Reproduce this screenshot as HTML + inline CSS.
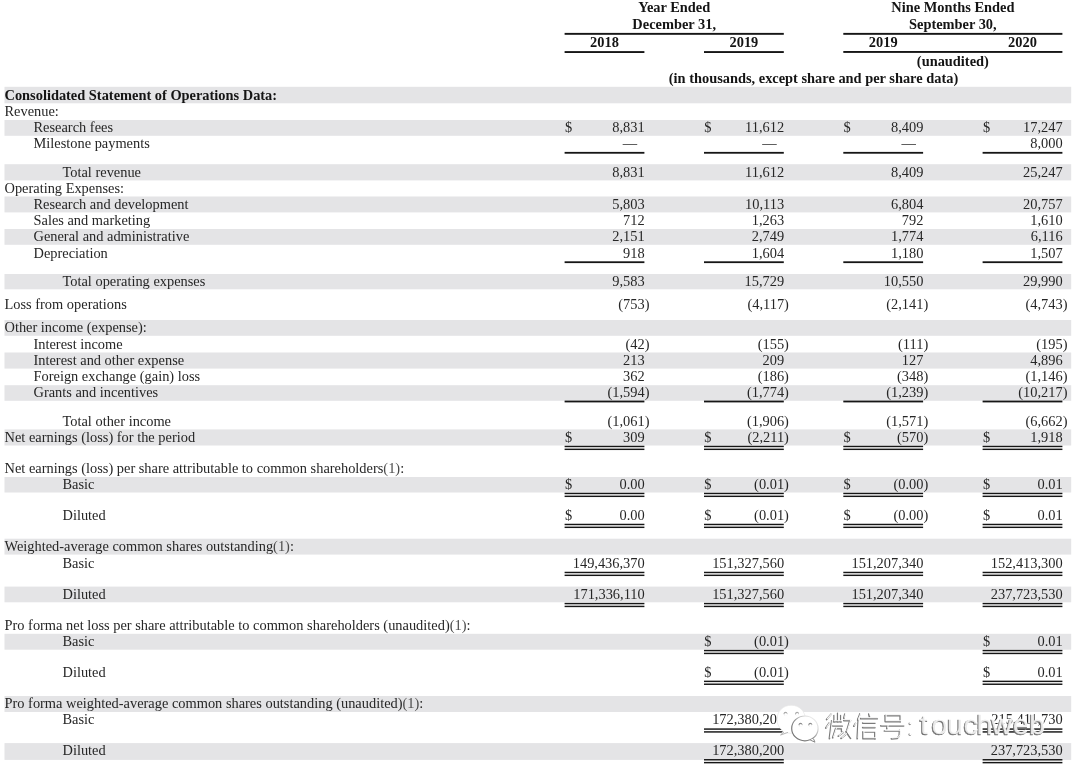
<!DOCTYPE html>
<html><head><meta charset="utf-8"><style>
html,body{margin:0;padding:0;background:#fff;width:1080px;height:774px;overflow:hidden}
svg{position:absolute;left:0;top:0;font-family:"Liberation Serif",serif;filter:blur(0.3px)}
</style></head><body>
<svg width="1080" height="774" viewBox="0 0 1080 774">
<rect x="564.60" y="32.90" width="219.20" height="1.90" fill="#161616"/>
<rect x="843.30" y="32.90" width="219.10" height="1.90" fill="#161616"/>
<rect x="564.60" y="51.10" width="79.80" height="1.90" fill="#161616"/>
<rect x="704.00" y="51.10" width="79.80" height="1.90" fill="#161616"/>
<rect x="843.30" y="51.00" width="219.10" height="1.90" fill="#161616"/>
<rect x="4.50" y="86.80" width="1066.70" height="16.50" fill="#e4e4e6"/>
<rect x="4.50" y="120.00" width="1066.70" height="15.80" fill="#e4e4e6"/>
<rect x="564.60" y="151.90" width="79.80" height="1.80" fill="#161616"/>
<rect x="704.00" y="151.90" width="79.80" height="1.80" fill="#161616"/>
<rect x="843.30" y="151.90" width="79.80" height="1.80" fill="#161616"/>
<rect x="982.60" y="151.90" width="79.80" height="1.80" fill="#161616"/>
<rect x="4.50" y="164.20" width="1066.70" height="16.20" fill="#e4e4e6"/>
<rect x="4.50" y="196.50" width="1066.70" height="15.90" fill="#e4e4e6"/>
<rect x="4.50" y="229.00" width="1066.70" height="15.80" fill="#e4e4e6"/>
<rect x="564.60" y="261.30" width="79.80" height="1.80" fill="#161616"/>
<rect x="704.00" y="261.30" width="79.80" height="1.80" fill="#161616"/>
<rect x="843.30" y="261.30" width="79.80" height="1.80" fill="#161616"/>
<rect x="982.60" y="261.30" width="79.80" height="1.80" fill="#161616"/>
<rect x="4.50" y="274.00" width="1066.70" height="15.30" fill="#e4e4e6"/>
<rect x="4.50" y="320.00" width="1066.70" height="15.80" fill="#e4e4e6"/>
<rect x="4.50" y="352.50" width="1066.70" height="16.10" fill="#e4e4e6"/>
<rect x="4.50" y="385.20" width="1066.70" height="15.60" fill="#e4e4e6"/>
<rect x="564.60" y="400.60" width="79.80" height="1.80" fill="#161616"/>
<rect x="704.00" y="400.60" width="79.80" height="1.80" fill="#161616"/>
<rect x="843.30" y="400.60" width="79.80" height="1.80" fill="#161616"/>
<rect x="982.60" y="400.60" width="79.80" height="1.80" fill="#161616"/>
<rect x="4.50" y="429.40" width="1066.70" height="16.10" fill="#e4e4e6"/>
<rect x="564.60" y="445.75" width="79.80" height="1.45" fill="#161616"/>
<rect x="564.60" y="448.60" width="79.80" height="1.45" fill="#161616"/>
<rect x="704.00" y="445.75" width="79.80" height="1.45" fill="#161616"/>
<rect x="704.00" y="448.60" width="79.80" height="1.45" fill="#161616"/>
<rect x="843.30" y="445.75" width="79.80" height="1.45" fill="#161616"/>
<rect x="843.30" y="448.60" width="79.80" height="1.45" fill="#161616"/>
<rect x="982.60" y="445.75" width="79.80" height="1.45" fill="#161616"/>
<rect x="982.60" y="448.60" width="79.80" height="1.45" fill="#161616"/>
<rect x="4.50" y="477.00" width="1066.70" height="15.50" fill="#e4e4e6"/>
<rect x="564.60" y="492.75" width="79.80" height="1.45" fill="#161616"/>
<rect x="564.60" y="495.60" width="79.80" height="1.45" fill="#161616"/>
<rect x="704.00" y="492.75" width="79.80" height="1.45" fill="#161616"/>
<rect x="704.00" y="495.60" width="79.80" height="1.45" fill="#161616"/>
<rect x="843.30" y="492.75" width="79.80" height="1.45" fill="#161616"/>
<rect x="843.30" y="495.60" width="79.80" height="1.45" fill="#161616"/>
<rect x="982.60" y="492.75" width="79.80" height="1.45" fill="#161616"/>
<rect x="982.60" y="495.60" width="79.80" height="1.45" fill="#161616"/>
<rect x="564.60" y="523.75" width="79.80" height="1.45" fill="#161616"/>
<rect x="564.60" y="526.60" width="79.80" height="1.45" fill="#161616"/>
<rect x="704.00" y="523.75" width="79.80" height="1.45" fill="#161616"/>
<rect x="704.00" y="526.60" width="79.80" height="1.45" fill="#161616"/>
<rect x="843.30" y="523.75" width="79.80" height="1.45" fill="#161616"/>
<rect x="843.30" y="526.60" width="79.80" height="1.45" fill="#161616"/>
<rect x="982.60" y="523.75" width="79.80" height="1.45" fill="#161616"/>
<rect x="982.60" y="526.60" width="79.80" height="1.45" fill="#161616"/>
<rect x="4.50" y="538.70" width="1066.70" height="15.90" fill="#e4e4e6"/>
<rect x="564.60" y="571.75" width="79.80" height="1.45" fill="#161616"/>
<rect x="564.60" y="574.60" width="79.80" height="1.45" fill="#161616"/>
<rect x="704.00" y="571.75" width="79.80" height="1.45" fill="#161616"/>
<rect x="704.00" y="574.60" width="79.80" height="1.45" fill="#161616"/>
<rect x="843.30" y="571.75" width="79.80" height="1.45" fill="#161616"/>
<rect x="843.30" y="574.60" width="79.80" height="1.45" fill="#161616"/>
<rect x="982.60" y="571.75" width="79.80" height="1.45" fill="#161616"/>
<rect x="982.60" y="574.60" width="79.80" height="1.45" fill="#161616"/>
<rect x="4.50" y="586.60" width="1066.70" height="15.70" fill="#e4e4e6"/>
<rect x="564.60" y="602.85" width="79.80" height="1.45" fill="#161616"/>
<rect x="564.60" y="605.70" width="79.80" height="1.45" fill="#161616"/>
<rect x="704.00" y="602.85" width="79.80" height="1.45" fill="#161616"/>
<rect x="704.00" y="605.70" width="79.80" height="1.45" fill="#161616"/>
<rect x="843.30" y="602.85" width="79.80" height="1.45" fill="#161616"/>
<rect x="843.30" y="605.70" width="79.80" height="1.45" fill="#161616"/>
<rect x="982.60" y="602.85" width="79.80" height="1.45" fill="#161616"/>
<rect x="982.60" y="605.70" width="79.80" height="1.45" fill="#161616"/>
<rect x="4.50" y="633.80" width="1066.70" height="15.90" fill="#e4e4e6"/>
<rect x="704.00" y="649.85" width="79.80" height="1.45" fill="#161616"/>
<rect x="704.00" y="652.70" width="79.80" height="1.45" fill="#161616"/>
<rect x="982.60" y="649.85" width="79.80" height="1.45" fill="#161616"/>
<rect x="982.60" y="652.70" width="79.80" height="1.45" fill="#161616"/>
<rect x="704.00" y="680.65" width="79.80" height="1.45" fill="#161616"/>
<rect x="704.00" y="683.50" width="79.80" height="1.45" fill="#161616"/>
<rect x="982.60" y="680.65" width="79.80" height="1.45" fill="#161616"/>
<rect x="982.60" y="683.50" width="79.80" height="1.45" fill="#161616"/>
<rect x="4.50" y="696.00" width="1066.70" height="16.00" fill="#e4e4e6"/>
<rect x="704.00" y="728.35" width="79.80" height="1.45" fill="#161616"/>
<rect x="704.00" y="731.20" width="79.80" height="1.45" fill="#161616"/>
<rect x="982.60" y="728.35" width="79.80" height="1.45" fill="#161616"/>
<rect x="982.60" y="731.20" width="79.80" height="1.45" fill="#161616"/>
<rect x="4.50" y="743.10" width="1066.70" height="16.80" fill="#e4e4e6"/>
<rect x="704.00" y="759.05" width="79.80" height="1.45" fill="#161616"/>
<rect x="704.00" y="761.90" width="79.80" height="1.45" fill="#161616"/>
<rect x="982.60" y="759.05" width="79.80" height="1.45" fill="#161616"/>
<rect x="982.60" y="761.90" width="79.80" height="1.45" fill="#161616"/>
<text x="674.20" y="12.00" text-anchor="middle" font-weight="bold" font-size="14.4" fill="#141414">Year Ended</text>
<text x="674.20" y="28.90" text-anchor="middle" font-weight="bold" font-size="14.4" fill="#141414">December 31,</text>
<text x="952.85" y="12.00" text-anchor="middle" font-weight="bold" font-size="14.4" fill="#141414">Nine Months Ended</text>
<text x="952.85" y="28.90" text-anchor="middle" font-weight="bold" font-size="14.4" fill="#141414">September 30,</text>
<text x="604.50" y="47.00" text-anchor="middle" font-weight="bold" font-size="14.4" fill="#141414">2018</text>
<text x="743.90" y="47.00" text-anchor="middle" font-weight="bold" font-size="14.4" fill="#141414">2019</text>
<text x="883.20" y="47.00" text-anchor="middle" font-weight="bold" font-size="14.4" fill="#141414">2019</text>
<text x="1022.50" y="47.00" text-anchor="middle" font-weight="bold" font-size="14.4" fill="#141414">2020</text>
<text x="952.85" y="65.50" text-anchor="middle" font-weight="bold" font-size="14.4" fill="#141414">(unaudited)</text>
<text x="813.50" y="82.50" text-anchor="middle" font-weight="bold" font-size="14.4" fill="#141414">(in thousands, except share and per share data)</text>
<text x="4.50" y="99.50" font-weight="bold" font-size="14.4" fill="#141414">Consolidated Statement of Operations Data:</text>
<text x="4.50" y="115.70" font-size="14.4" fill="#262626">Revenue:</text>
<text x="33.50" y="131.80" font-size="14.4" fill="#262626">Research fees</text>
<text x="644.70" y="131.80" text-anchor="end" font-size="14.4" fill="#262626">8,831</text>
<text x="564.90" y="131.80" font-size="14.4" fill="#262626">$</text>
<text x="784.10" y="131.80" text-anchor="end" font-size="14.4" fill="#262626">11,612</text>
<text x="704.30" y="131.80" font-size="14.4" fill="#262626">$</text>
<text x="923.40" y="131.80" text-anchor="end" font-size="14.4" fill="#262626">8,409</text>
<text x="843.60" y="131.80" font-size="14.4" fill="#262626">$</text>
<text x="1062.70" y="131.80" text-anchor="end" font-size="14.4" fill="#262626">17,247</text>
<text x="982.90" y="131.80" font-size="14.4" fill="#262626">$</text>
<text x="33.50" y="148.10" font-size="14.4" fill="#262626">Milestone payments</text>
<text x="637.20" y="147.60" text-anchor="end" font-size="14.4" fill="#262626">—</text>
<text x="776.60" y="147.60" text-anchor="end" font-size="14.4" fill="#262626">—</text>
<text x="915.90" y="147.60" text-anchor="end" font-size="14.4" fill="#262626">—</text>
<text x="1062.70" y="148.10" text-anchor="end" font-size="14.4" fill="#262626">8,000</text>
<text x="62.50" y="176.70" font-size="14.4" fill="#262626">Total revenue</text>
<text x="644.70" y="176.70" text-anchor="end" font-size="14.4" fill="#262626">8,831</text>
<text x="784.10" y="176.70" text-anchor="end" font-size="14.4" fill="#262626">11,612</text>
<text x="923.40" y="176.70" text-anchor="end" font-size="14.4" fill="#262626">8,409</text>
<text x="1062.70" y="176.70" text-anchor="end" font-size="14.4" fill="#262626">25,247</text>
<text x="4.50" y="192.70" font-size="14.4" fill="#262626">Operating Expenses:</text>
<text x="33.50" y="208.90" font-size="14.4" fill="#262626">Research and development</text>
<text x="644.70" y="208.90" text-anchor="end" font-size="14.4" fill="#262626">5,803</text>
<text x="784.10" y="208.90" text-anchor="end" font-size="14.4" fill="#262626">10,113</text>
<text x="923.40" y="208.90" text-anchor="end" font-size="14.4" fill="#262626">6,804</text>
<text x="1062.70" y="208.90" text-anchor="end" font-size="14.4" fill="#262626">20,757</text>
<text x="33.50" y="225.10" font-size="14.4" fill="#262626">Sales and marketing</text>
<text x="644.70" y="225.10" text-anchor="end" font-size="14.4" fill="#262626">712</text>
<text x="784.10" y="225.10" text-anchor="end" font-size="14.4" fill="#262626">1,263</text>
<text x="923.40" y="225.10" text-anchor="end" font-size="14.4" fill="#262626">792</text>
<text x="1062.70" y="225.10" text-anchor="end" font-size="14.4" fill="#262626">1,610</text>
<text x="33.50" y="241.30" font-size="14.4" fill="#262626">General and administrative</text>
<text x="644.70" y="241.30" text-anchor="end" font-size="14.4" fill="#262626">2,151</text>
<text x="784.10" y="241.30" text-anchor="end" font-size="14.4" fill="#262626">2,749</text>
<text x="923.40" y="241.30" text-anchor="end" font-size="14.4" fill="#262626">1,774</text>
<text x="1062.70" y="241.30" text-anchor="end" font-size="14.4" fill="#262626">6,116</text>
<text x="33.50" y="257.50" font-size="14.4" fill="#262626">Depreciation</text>
<text x="644.70" y="257.50" text-anchor="end" font-size="14.4" fill="#262626">918</text>
<text x="784.10" y="257.50" text-anchor="end" font-size="14.4" fill="#262626">1,604</text>
<text x="923.40" y="257.50" text-anchor="end" font-size="14.4" fill="#262626">1,180</text>
<text x="1062.70" y="257.50" text-anchor="end" font-size="14.4" fill="#262626">1,507</text>
<text x="62.50" y="286.00" font-size="14.4" fill="#262626">Total operating expenses</text>
<text x="644.70" y="286.00" text-anchor="end" font-size="14.4" fill="#262626">9,583</text>
<text x="784.10" y="286.00" text-anchor="end" font-size="14.4" fill="#262626">15,729</text>
<text x="923.40" y="286.00" text-anchor="end" font-size="14.4" fill="#262626">10,550</text>
<text x="1062.70" y="286.00" text-anchor="end" font-size="14.4" fill="#262626">29,990</text>
<text x="4.50" y="309.00" font-size="14.4" fill="#262626">Loss from operations</text>
<text x="649.50" y="309.00" text-anchor="end" font-size="14.4" fill="#262626">(753)</text>
<text x="788.90" y="309.00" text-anchor="end" font-size="14.4" fill="#262626">(4,117)</text>
<text x="928.20" y="309.00" text-anchor="end" font-size="14.4" fill="#262626">(2,141)</text>
<text x="1067.50" y="309.00" text-anchor="end" font-size="14.4" fill="#262626">(4,743)</text>
<text x="4.50" y="332.00" font-size="14.4" fill="#262626">Other income (expense):</text>
<text x="33.50" y="349.00" font-size="14.4" fill="#262626">Interest income</text>
<text x="649.50" y="349.00" text-anchor="end" font-size="14.4" fill="#262626">(42)</text>
<text x="788.90" y="349.00" text-anchor="end" font-size="14.4" fill="#262626">(155)</text>
<text x="928.20" y="349.00" text-anchor="end" font-size="14.4" fill="#262626">(111)</text>
<text x="1067.50" y="349.00" text-anchor="end" font-size="14.4" fill="#262626">(195)</text>
<text x="33.50" y="365.00" font-size="14.4" fill="#262626">Interest and other expense</text>
<text x="644.70" y="365.00" text-anchor="end" font-size="14.4" fill="#262626">213</text>
<text x="784.10" y="365.00" text-anchor="end" font-size="14.4" fill="#262626">209</text>
<text x="923.40" y="365.00" text-anchor="end" font-size="14.4" fill="#262626">127</text>
<text x="1062.70" y="365.00" text-anchor="end" font-size="14.4" fill="#262626">4,896</text>
<text x="33.50" y="380.60" font-size="14.4" fill="#262626">Foreign exchange (gain) loss</text>
<text x="644.70" y="380.60" text-anchor="end" font-size="14.4" fill="#262626">362</text>
<text x="788.90" y="380.60" text-anchor="end" font-size="14.4" fill="#262626">(186)</text>
<text x="928.20" y="380.60" text-anchor="end" font-size="14.4" fill="#262626">(348)</text>
<text x="1067.50" y="380.60" text-anchor="end" font-size="14.4" fill="#262626">(1,146)</text>
<text x="33.50" y="396.80" font-size="14.4" fill="#262626">Grants and incentives</text>
<text x="649.50" y="396.80" text-anchor="end" font-size="14.4" fill="#262626">(1,594)</text>
<text x="788.90" y="396.80" text-anchor="end" font-size="14.4" fill="#262626">(1,774)</text>
<text x="928.20" y="396.80" text-anchor="end" font-size="14.4" fill="#262626">(1,239)</text>
<text x="1067.50" y="396.80" text-anchor="end" font-size="14.4" fill="#262626">(10,217)</text>
<text x="62.50" y="425.70" font-size="14.4" fill="#262626">Total other income</text>
<text x="649.50" y="425.70" text-anchor="end" font-size="14.4" fill="#262626">(1,061)</text>
<text x="788.90" y="425.70" text-anchor="end" font-size="14.4" fill="#262626">(1,906)</text>
<text x="928.20" y="425.70" text-anchor="end" font-size="14.4" fill="#262626">(1,571)</text>
<text x="1067.50" y="425.70" text-anchor="end" font-size="14.4" fill="#262626">(6,662)</text>
<text x="4.50" y="441.60" font-size="14.4" fill="#262626">Net earnings (loss) for the period</text>
<text x="644.70" y="441.60" text-anchor="end" font-size="14.4" fill="#262626">309</text>
<text x="564.90" y="441.60" font-size="14.4" fill="#262626">$</text>
<text x="788.90" y="441.60" text-anchor="end" font-size="14.4" fill="#262626">(2,211)</text>
<text x="704.30" y="441.60" font-size="14.4" fill="#262626">$</text>
<text x="928.20" y="441.60" text-anchor="end" font-size="14.4" fill="#262626">(570)</text>
<text x="843.60" y="441.60" font-size="14.4" fill="#262626">$</text>
<text x="1062.70" y="441.60" text-anchor="end" font-size="14.4" fill="#262626">1,918</text>
<text x="982.90" y="441.60" font-size="14.4" fill="#262626">$</text>
<text x="4.50" y="472.50" font-size="14.4" fill="#262626">Net earnings (loss) per share attributable to common shareholders<tspan fill="#4a4a4a">(1)</tspan>:</text>
<text x="62.50" y="488.60" font-size="14.4" fill="#262626">Basic</text>
<text x="644.70" y="488.60" text-anchor="end" font-size="14.4" fill="#262626">0.00</text>
<text x="564.90" y="488.60" font-size="14.4" fill="#262626">$</text>
<text x="788.90" y="488.60" text-anchor="end" font-size="14.4" fill="#262626">(0.01)</text>
<text x="704.30" y="488.60" font-size="14.4" fill="#262626">$</text>
<text x="928.20" y="488.60" text-anchor="end" font-size="14.4" fill="#262626">(0.00)</text>
<text x="843.60" y="488.60" font-size="14.4" fill="#262626">$</text>
<text x="1062.70" y="488.60" text-anchor="end" font-size="14.4" fill="#262626">0.01</text>
<text x="982.90" y="488.60" font-size="14.4" fill="#262626">$</text>
<text x="62.50" y="519.60" font-size="14.4" fill="#262626">Diluted</text>
<text x="644.70" y="519.60" text-anchor="end" font-size="14.4" fill="#262626">0.00</text>
<text x="564.90" y="519.60" font-size="14.4" fill="#262626">$</text>
<text x="788.90" y="519.60" text-anchor="end" font-size="14.4" fill="#262626">(0.01)</text>
<text x="704.30" y="519.60" font-size="14.4" fill="#262626">$</text>
<text x="928.20" y="519.60" text-anchor="end" font-size="14.4" fill="#262626">(0.00)</text>
<text x="843.60" y="519.60" font-size="14.4" fill="#262626">$</text>
<text x="1062.70" y="519.60" text-anchor="end" font-size="14.4" fill="#262626">0.01</text>
<text x="982.90" y="519.60" font-size="14.4" fill="#262626">$</text>
<text x="4.50" y="551.00" font-size="14.4" fill="#262626">Weighted-average common shares outstanding<tspan fill="#4a4a4a">(1)</tspan>:</text>
<text x="62.50" y="567.60" font-size="14.4" fill="#262626">Basic</text>
<text x="644.70" y="567.60" text-anchor="end" font-size="14.4" fill="#262626">149,436,370</text>
<text x="784.10" y="567.60" text-anchor="end" font-size="14.4" fill="#262626">151,327,560</text>
<text x="923.40" y="567.60" text-anchor="end" font-size="14.4" fill="#262626">151,207,340</text>
<text x="1062.70" y="567.60" text-anchor="end" font-size="14.4" fill="#262626">152,413,300</text>
<text x="62.50" y="598.70" font-size="14.4" fill="#262626">Diluted</text>
<text x="644.70" y="598.70" text-anchor="end" font-size="14.4" fill="#262626">171,336,110</text>
<text x="784.10" y="598.70" text-anchor="end" font-size="14.4" fill="#262626">151,327,560</text>
<text x="923.40" y="598.70" text-anchor="end" font-size="14.4" fill="#262626">151,207,340</text>
<text x="1062.70" y="598.70" text-anchor="end" font-size="14.4" fill="#262626">237,723,530</text>
<text x="4.50" y="629.80" font-size="14.4" fill="#262626">Pro forma net loss per share attributable to common shareholders (unaudited)<tspan fill="#4a4a4a">(1)</tspan>:</text>
<text x="62.50" y="645.70" font-size="14.4" fill="#262626">Basic</text>
<text x="788.90" y="645.70" text-anchor="end" font-size="14.4" fill="#262626">(0.01)</text>
<text x="704.30" y="645.70" font-size="14.4" fill="#262626">$</text>
<text x="1062.70" y="645.70" text-anchor="end" font-size="14.4" fill="#262626">0.01</text>
<text x="982.90" y="645.70" font-size="14.4" fill="#262626">$</text>
<text x="62.50" y="676.50" font-size="14.4" fill="#262626">Diluted</text>
<text x="788.90" y="676.50" text-anchor="end" font-size="14.4" fill="#262626">(0.01)</text>
<text x="704.30" y="676.50" font-size="14.4" fill="#262626">$</text>
<text x="1062.70" y="676.50" text-anchor="end" font-size="14.4" fill="#262626">0.01</text>
<text x="982.90" y="676.50" font-size="14.4" fill="#262626">$</text>
<text x="4.50" y="707.70" font-size="14.4" fill="#262626">Pro forma weighted-average common shares outstanding (unaudited)<tspan fill="#4a4a4a">(1)</tspan>:</text>
<text x="62.50" y="724.20" font-size="14.4" fill="#262626">Basic</text>
<text x="784.10" y="724.20" text-anchor="end" font-size="14.4" fill="#262626">172,380,200</text>
<text x="1062.70" y="724.20" text-anchor="end" font-size="14.4" fill="#262626">215,411,730</text>
<text x="62.50" y="754.90" font-size="14.4" fill="#262626">Diluted</text>
<text x="784.10" y="754.90" text-anchor="end" font-size="14.4" fill="#262626">172,380,200</text>
<text x="1062.70" y="754.90" text-anchor="end" font-size="14.4" fill="#262626">237,723,530</text>
<path d="M791.2,705.2 C783.2,705.2 777,711.3 777,719.2 C777,724.2 779.4,728.4 783.2,731 L780.6,735 L786.6,732.6 C788.1,733.1 789.6,733.3 791.2,733.3 C799.2,733.3 805.4,727.2 805.4,719.2 C805.4,711.3 799.2,705.2 791.2,705.2 Z" fill="#fff" stroke="#e6e6e6" stroke-width="0.7"/>
<path d="M784,732 L780.6,735 L788,732.4" fill="none" stroke="#aaa" stroke-width="0.8"/>
<circle cx="785.5" cy="713.6" r="1.9" fill="#a8a8a8"/><circle cx="785.7" cy="714.6" r="1.5" fill="#fff"/>
<circle cx="797.1" cy="713.6" r="1.9" fill="#a8a8a8"/><circle cx="797.3000000000001" cy="714.6" r="1.5" fill="#fff"/>
<defs><linearGradient id="wg" x1="0" y1="1" x2="1" y2="0"><stop offset="0" stop-color="#6a6a6a"/><stop offset="0.45" stop-color="#8a8a8a"/><stop offset="0.75" stop-color="#dcdcdc"/><stop offset="1" stop-color="#fafafa"/></linearGradient></defs>
<ellipse cx="804.9" cy="728.4" rx="13.2" ry="12.4" fill="#fff" stroke="url(#wg)" stroke-width="1.2"/>
<path d="M810.2,740 L815,742.2 L813.4,738.6" fill="#fff" stroke="#888" stroke-width="1"/>
<circle cx="800.5" cy="724.6" r="1.9" fill="#8c8c8c"/><circle cx="800.7" cy="725.6" r="1.5" fill="#fff"/>
<circle cx="810.3" cy="724.6" r="1.9" fill="#8c8c8c"/><circle cx="810.5" cy="725.6" r="1.5" fill="#fff"/>
<path d="M831.3,714.0 L826.6,719.5" fill="none" stroke="#7a7a7a" stroke-width="1.7" stroke-linecap="round" stroke-linejoin="round"/>
<path d="M829.4,722.8 L825.8,728.1" fill="none" stroke="#7a7a7a" stroke-width="1.7" stroke-linecap="round" stroke-linejoin="round"/>
<path d="M831.6,720.9 L829.4,738.7" fill="none" stroke="#7a7a7a" stroke-width="1.7" stroke-linecap="round" stroke-linejoin="round"/>
<path d="M834.1,715.6 L834.1,721.7" fill="none" stroke="#7a7a7a" stroke-width="1.7" stroke-linecap="round" stroke-linejoin="round"/>
<path d="M837.7,713.4 L837.7,721.7" fill="none" stroke="#7a7a7a" stroke-width="1.7" stroke-linecap="round" stroke-linejoin="round"/>
<path d="M840.8,715.6 L840.8,721.7" fill="none" stroke="#7a7a7a" stroke-width="1.7" stroke-linecap="round" stroke-linejoin="round"/>
<path d="M833.3,721.7 L841.0,721.7" fill="none" stroke="#7a7a7a" stroke-width="1.7" stroke-linecap="round" stroke-linejoin="round"/>
<path d="M832.4,725.9 L842.2,725.9" fill="none" stroke="#7a7a7a" stroke-width="1.7" stroke-linecap="round" stroke-linejoin="round"/>
<path d="M835.9,728.7 L841.6,728.7 L841.6,731.4" fill="none" stroke="#7a7a7a" stroke-width="1.7" stroke-linecap="round" stroke-linejoin="round"/>
<path d="M835.6,728.7 L832.7,737.8" fill="none" stroke="#7a7a7a" stroke-width="1.7" stroke-linecap="round" stroke-linejoin="round"/>
<path d="M838.3,736.2 L843.3,732.3" fill="none" stroke="#7a7a7a" stroke-width="1.7" stroke-linecap="round" stroke-linejoin="round"/>
<path d="M841.0,738.4 L845.5,734.5" fill="none" stroke="#7a7a7a" stroke-width="1.7" stroke-linecap="round" stroke-linejoin="round"/>
<path d="M844.9,714.0 L843.8,718.2" fill="none" stroke="#7a7a7a" stroke-width="1.7" stroke-linecap="round" stroke-linejoin="round"/>
<path d="M843.8,720.6 L850.5,720.6" fill="none" stroke="#7a7a7a" stroke-width="1.7" stroke-linecap="round" stroke-linejoin="round"/>
<path d="M849.9,720.6 L846.6,731.2" fill="none" stroke="#7a7a7a" stroke-width="1.7" stroke-linecap="round" stroke-linejoin="round"/>
<path d="M846.0,731.7 L850.5,738.4" fill="none" stroke="#7a7a7a" stroke-width="1.7" stroke-linecap="round" stroke-linejoin="round"/>
<path d="M859.9,714.0 L857.7,720.1" fill="none" stroke="#7a7a7a" stroke-width="1.7" stroke-linecap="round" stroke-linejoin="round"/>
<path d="M855.5,723.4 L853.8,726.2" fill="none" stroke="#7a7a7a" stroke-width="1.7" stroke-linecap="round" stroke-linejoin="round"/>
<path d="M858.3,718.4 L857.2,738.7" fill="none" stroke="#7a7a7a" stroke-width="1.7" stroke-linecap="round" stroke-linejoin="round"/>
<path d="M868.8,714.0 L869.4,716.7" fill="none" stroke="#7a7a7a" stroke-width="1.7" stroke-linecap="round" stroke-linejoin="round"/>
<path d="M860.5,718.7 L877.2,718.7" fill="none" stroke="#7a7a7a" stroke-width="1.7" stroke-linecap="round" stroke-linejoin="round"/>
<path d="M862.7,723.1 L874.9,723.1" fill="none" stroke="#7a7a7a" stroke-width="1.7" stroke-linecap="round" stroke-linejoin="round"/>
<path d="M862.7,727.6 L874.9,727.6" fill="none" stroke="#7a7a7a" stroke-width="1.7" stroke-linecap="round" stroke-linejoin="round"/>
<path d="M863.0,732.0 L874.9,732.0 L874.9,738.7" fill="none" stroke="#7a7a7a" stroke-width="1.7" stroke-linecap="round" stroke-linejoin="round"/>
<path d="M863.0,732.0 L863.0,738.7 L874.9,738.7" fill="none" stroke="#7a7a7a" stroke-width="1.7" stroke-linecap="round" stroke-linejoin="round"/>
<path d="M885.2,715.7 L900.2,715.7 L900.2,721.6" fill="none" stroke="#7a7a7a" stroke-width="1.7" stroke-linecap="round" stroke-linejoin="round"/>
<path d="M885.2,715.7 L885.2,721.6 L900.2,721.6" fill="none" stroke="#7a7a7a" stroke-width="1.7" stroke-linecap="round" stroke-linejoin="round"/>
<path d="M880.8,725.8 L903.6,725.8" fill="none" stroke="#7a7a7a" stroke-width="1.7" stroke-linecap="round" stroke-linejoin="round"/>
<path d="M887.2,726.0 L886.8,728.8" fill="none" stroke="#7a7a7a" stroke-width="1.7" stroke-linecap="round" stroke-linejoin="round"/>
<path d="M884.4,731.0 L899.6,731.0" fill="none" stroke="#7a7a7a" stroke-width="1.7" stroke-linecap="round" stroke-linejoin="round"/>
<path d="M899.6,730.0 L899.2,736.0 L897.1,738.4 L891.3,738.8" fill="none" stroke="#7a7a7a" stroke-width="1.7" stroke-linecap="round" stroke-linejoin="round"/>
<path d="M832.2,713.1 L827.5,718.6" fill="none" stroke="#ffffff" stroke-width="1.1" stroke-opacity="0.95" stroke-linecap="round" stroke-linejoin="round"/>
<path d="M830.3,721.9 L826.7,727.2" fill="none" stroke="#ffffff" stroke-width="1.1" stroke-opacity="0.95" stroke-linecap="round" stroke-linejoin="round"/>
<path d="M832.5,720.0 L830.3,737.8" fill="none" stroke="#ffffff" stroke-width="1.1" stroke-opacity="0.95" stroke-linecap="round" stroke-linejoin="round"/>
<path d="M835.0,714.7 L835.0,720.8" fill="none" stroke="#ffffff" stroke-width="1.1" stroke-opacity="0.95" stroke-linecap="round" stroke-linejoin="round"/>
<path d="M838.6,712.5 L838.6,720.8" fill="none" stroke="#ffffff" stroke-width="1.1" stroke-opacity="0.95" stroke-linecap="round" stroke-linejoin="round"/>
<path d="M841.7,714.7 L841.7,720.8" fill="none" stroke="#ffffff" stroke-width="1.1" stroke-opacity="0.95" stroke-linecap="round" stroke-linejoin="round"/>
<path d="M834.2,720.8 L841.9,720.8" fill="none" stroke="#ffffff" stroke-width="1.1" stroke-opacity="0.95" stroke-linecap="round" stroke-linejoin="round"/>
<path d="M833.3,725.0 L843.1,725.0" fill="none" stroke="#ffffff" stroke-width="1.1" stroke-opacity="0.95" stroke-linecap="round" stroke-linejoin="round"/>
<path d="M836.8,727.8 L842.5,727.8 L842.5,730.5" fill="none" stroke="#ffffff" stroke-width="1.1" stroke-opacity="0.95" stroke-linecap="round" stroke-linejoin="round"/>
<path d="M836.5,727.8 L833.6,736.9" fill="none" stroke="#ffffff" stroke-width="1.1" stroke-opacity="0.95" stroke-linecap="round" stroke-linejoin="round"/>
<path d="M839.2,735.3 L844.2,731.4" fill="none" stroke="#ffffff" stroke-width="1.1" stroke-opacity="0.95" stroke-linecap="round" stroke-linejoin="round"/>
<path d="M841.9,737.5 L846.4,733.6" fill="none" stroke="#ffffff" stroke-width="1.1" stroke-opacity="0.95" stroke-linecap="round" stroke-linejoin="round"/>
<path d="M845.8,713.1 L844.7,717.3" fill="none" stroke="#ffffff" stroke-width="1.1" stroke-opacity="0.95" stroke-linecap="round" stroke-linejoin="round"/>
<path d="M844.7,719.7 L851.4,719.7" fill="none" stroke="#ffffff" stroke-width="1.1" stroke-opacity="0.95" stroke-linecap="round" stroke-linejoin="round"/>
<path d="M850.8,719.7 L847.5,730.3" fill="none" stroke="#ffffff" stroke-width="1.1" stroke-opacity="0.95" stroke-linecap="round" stroke-linejoin="round"/>
<path d="M846.9,730.8 L851.4,737.5" fill="none" stroke="#ffffff" stroke-width="1.1" stroke-opacity="0.95" stroke-linecap="round" stroke-linejoin="round"/>
<path d="M860.8,713.1 L858.6,719.2" fill="none" stroke="#ffffff" stroke-width="1.1" stroke-opacity="0.95" stroke-linecap="round" stroke-linejoin="round"/>
<path d="M856.4,722.5 L854.7,725.3" fill="none" stroke="#ffffff" stroke-width="1.1" stroke-opacity="0.95" stroke-linecap="round" stroke-linejoin="round"/>
<path d="M859.2,717.5 L858.1,737.8" fill="none" stroke="#ffffff" stroke-width="1.1" stroke-opacity="0.95" stroke-linecap="round" stroke-linejoin="round"/>
<path d="M869.7,713.1 L870.3,715.8" fill="none" stroke="#ffffff" stroke-width="1.1" stroke-opacity="0.95" stroke-linecap="round" stroke-linejoin="round"/>
<path d="M861.4,717.8 L878.1,717.8" fill="none" stroke="#ffffff" stroke-width="1.1" stroke-opacity="0.95" stroke-linecap="round" stroke-linejoin="round"/>
<path d="M863.6,722.2 L875.8,722.2" fill="none" stroke="#ffffff" stroke-width="1.1" stroke-opacity="0.95" stroke-linecap="round" stroke-linejoin="round"/>
<path d="M863.6,726.7 L875.8,726.7" fill="none" stroke="#ffffff" stroke-width="1.1" stroke-opacity="0.95" stroke-linecap="round" stroke-linejoin="round"/>
<path d="M863.9,731.1 L875.8,731.1 L875.8,737.8" fill="none" stroke="#ffffff" stroke-width="1.1" stroke-opacity="0.95" stroke-linecap="round" stroke-linejoin="round"/>
<path d="M863.9,731.1 L863.9,737.8 L875.8,737.8" fill="none" stroke="#ffffff" stroke-width="1.1" stroke-opacity="0.95" stroke-linecap="round" stroke-linejoin="round"/>
<path d="M886.1,714.8 L901.1,714.8 L901.1,720.7" fill="none" stroke="#ffffff" stroke-width="1.1" stroke-opacity="0.95" stroke-linecap="round" stroke-linejoin="round"/>
<path d="M886.1,714.8 L886.1,720.7 L901.1,720.7" fill="none" stroke="#ffffff" stroke-width="1.1" stroke-opacity="0.95" stroke-linecap="round" stroke-linejoin="round"/>
<path d="M881.7,724.9 L904.5,724.9" fill="none" stroke="#ffffff" stroke-width="1.1" stroke-opacity="0.95" stroke-linecap="round" stroke-linejoin="round"/>
<path d="M888.1,725.1 L887.7,727.9" fill="none" stroke="#ffffff" stroke-width="1.1" stroke-opacity="0.95" stroke-linecap="round" stroke-linejoin="round"/>
<path d="M885.3,730.1 L900.5,730.1" fill="none" stroke="#ffffff" stroke-width="1.1" stroke-opacity="0.95" stroke-linecap="round" stroke-linejoin="round"/>
<path d="M900.5,729.1 L900.1,735.1 L898.0,737.5 L892.2,737.9" fill="none" stroke="#ffffff" stroke-width="1.1" stroke-opacity="0.95" stroke-linecap="round" stroke-linejoin="round"/>
<circle cx="909.8" cy="723.8" r="1.4" fill="#8a8a8a"/><circle cx="909.8" cy="734.6" r="1.4" fill="#8a8a8a"/>
<circle cx="910.5" cy="723.1" r="1.2" fill="#fff"/><circle cx="910.5" cy="733.9" r="1.2" fill="#fff"/>
<g transform="scale(1.07,1)">
<text x="859.07 869.95 884.37 899.85 911.90 925.73 945.84 960.96" y="735.4" font-family="Liberation Sans, sans-serif" font-size="27" fill="#707070" stroke="#707070" stroke-width="0.5">touchweb</text>
<text x="860.01 870.88 885.31 900.79 912.83 926.66 946.77 961.90" y="734.3" font-family="Liberation Sans, sans-serif" font-size="27" fill="#ffffff" fill-opacity="0.85" stroke="#fff" stroke-opacity="0.6" stroke-width="0.5">touchweb</text>
</g>
</svg>
</body></html>
